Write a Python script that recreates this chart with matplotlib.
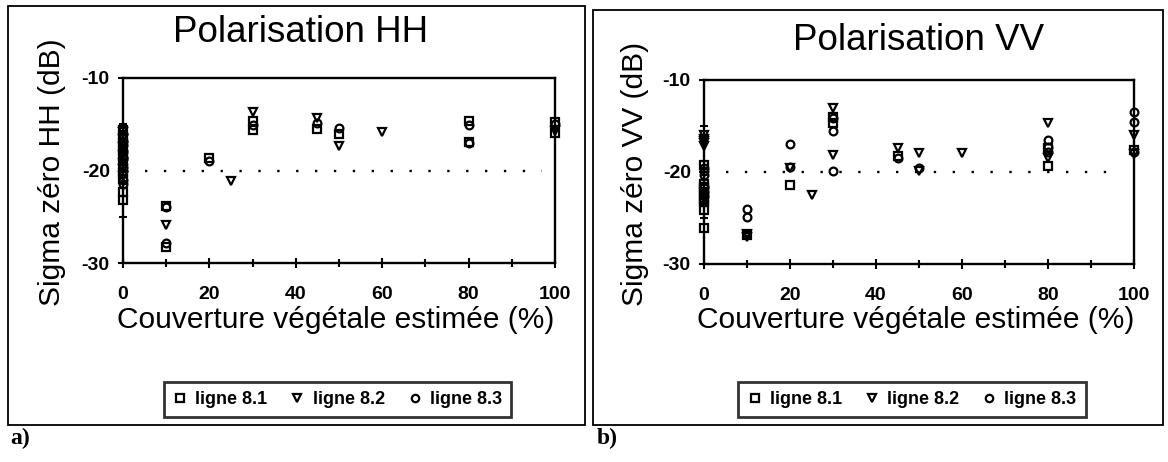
import matplotlib
matplotlib.use("Agg")
import matplotlib.pyplot as plt
from matplotlib.patches import Rectangle
from matplotlib.ticker import MultipleLocator

plt.rcParams['font.family'] = ['Liberation Sans', 'DejaVu Sans']
plt.rcParams['axes.unicode_minus'] = False

# ---- data: vegetation cover (%) vs backscatter sigma0 (dB) ----
series_labels = ['ligne 8.1', 'ligne 8.2', 'ligne 8.3']
threshold_db = -20

# HH polarisation
hh_x_81 = [0, 0, 0, 0, 0, 0, 0, 0, 0, 0, 10, 10, 20, 30, 30, 45, 50, 80, 80, 100, 100]
hh_y_81 = [-15.6, -16.4, -17.0, -17.8, -18.4, -19.4, -20.3, -20.9, -22.3, -23.2,
           -23.8, -28.3, -18.7, -14.7, -15.6, -15.5, -16.0, -14.6, -16.9, -14.8, -15.9]
hh_x_82 = [0, 0, 0, 0, 0, 0, 0, 10, 25, 30, 45, 50, 60, 100]
hh_y_82 = [-15.8, -16.6, -17.5, -18.3, -19.2, -19.8, -20.6, -25.9, -21.1, -13.7,
           -14.3, -17.4, -15.8, -15.7]
hh_x_83 = [0, 0, 0, 0, 0, 0, 0, 0, 0, 0, 10, 10, 20, 30, 45, 50, 80, 80, 100]
hh_y_83 = [-16.1, -16.8, -17.2, -18.0, -18.5, -18.8, -19.6, -20.0, -21.0, -21.5,
           -23.9, -27.8, -19.0, -15.1, -14.9, -15.4, -15.1, -17.0, -15.0]

# VV polarisation
vv_x_81 = [0, 0, 0, 0, 0, 0, 0, 0, 0, 0, 10, 20, 30, 30, 45, 80, 80, 100]
vv_y_81 = [-19.2, -21.3, -21.6, -21.8, -22.3, -22.8, -23.0, -23.3, -24.1, -26.1,
           -26.9, -21.4, -14.0, -14.7, -18.3, -17.4, -19.4, -17.6]
vv_x_82 = [0, 0, 0, 0, 0, 10, 10, 20, 25, 30, 30, 45, 50, 50, 60, 80, 80, 100, 100]
vv_y_82 = [-16.0, -16.4, -16.9, -17.2, -16.6, -26.7, -27.1, -19.6, -22.5, -13.0,
           -18.2, -17.4, -17.9, -19.9, -17.9, -14.7, -18.5, -16.0, -18.0]
vv_x_83 = [0, 0, 0, 0, 0, 0, 10, 10, 20, 20, 30, 30, 30, 45, 50, 80, 80, 80, 100, 100, 100]
vv_y_83 = [-19.6, -19.9, -20.3, -21.6, -22.2, -22.6, -24.0, -24.9, -17.0, -19.5,
           -14.1, -15.5, -19.9, -18.5, -19.6, -16.5, -17.3, -17.8, -13.5, -14.6, -17.8]

W, H = 1168, 462
fig = plt.figure(figsize=(W / 100, H / 100), dpi=100)


def fx(px):
    return px / W


def fy(py):
    return 1 - py / H


markers = ['s', 'v', 'o']
ylab_x = {'a)': 52, 'b)': 635}


def panel(ax_box, frame, series, ylab, title, title_xy, legend_cx, tag_xy, tag):
    l, t, r, b = ax_box
    ax = fig.add_axes([fx(l), fy(b), fx(r - l), (b - t) / H])
    for (xs, ys), m, lab in zip(series, markers, series_labels):
        ax.plot(xs, ys, ls='none', marker=m, ms=5.6, mfc='none', mec='black',
                mew=1.6, clip_on=False, label=lab, zorder=3)
    ax.plot([5, 97], [threshold_db, threshold_db], color='black', lw=1.7,
            ls=(0, (1, 7)), zorder=2)
    ax.set_xlim(0, 100)
    ax.set_ylim(-30, -10)
    ax.xaxis.set_major_locator(MultipleLocator(20))
    ax.xaxis.set_minor_locator(MultipleLocator(10))
    ax.yaxis.set_major_locator(MultipleLocator(10))
    ax.yaxis.set_minor_locator(MultipleLocator(5))
    ax.tick_params(which='both', direction='inout', width=1.5, color='black')
    ax.tick_params(which='major', length=7)
    ax.tick_params(which='minor', length=6)
    ax.tick_params(axis='x', which='major', pad=13, labelsize=14)
    ax.tick_params(axis='y', which='major', pad=6, labelsize=14)
    for lbl in ax.get_xticklabels() + ax.get_yticklabels():
        lbl.set_fontweight('bold')
    for s in ax.spines.values():
        s.set_linewidth(1.7)
    ax.set_xlabel('Couverture végétale estimée (%)', fontsize=21.5, va='center')
    ax.xaxis.set_label_coords(0.493, -(320 - b) / (b - t))
    ax.set_ylabel(ylab, fontsize=21.5, va='center')
    ax.yaxis.set_label_coords((ylab_x[tag] - l) / (r - l), 0.49)

    fl, ft, fr, fb = frame
    fig.patches.append(Rectangle((fx(fl), fy(fb)), fx(fr - fl), (fb - ft) / H,
                                 transform=fig.transFigure, fill=False,
                                 edgecolor='black', lw=1.3))
    fig.text(fx(title_xy[0]), fy(title_xy[1]), title, fontsize=26.5,
             ha='center', va='baseline')
    leg = ax.legend(loc='center', bbox_to_anchor=(fx(legend_cx), fy(399.5)),
                    bbox_transform=fig.transFigure, ncol=3,
                    prop={'weight': 'bold', 'size': 13}, frameon=True,
                    fancybox=False, edgecolor='black', handlelength=0.8,
                    handletextpad=0.45, columnspacing=1.25, borderpad=0.5,
                    borderaxespad=0, markerscale=0.95)
    leg.get_frame().set_linewidth(2)
    fig.text(fx(tag_xy[0]), fy(tag_xy[1]), tag, fontsize=17, fontweight='bold',
             family=['Liberation Serif', 'DejaVu Serif'], ha='left', va='center')
    return ax


panel((123, 78, 555, 263), (8, 6, 585, 425),
      [(hh_x_81, hh_y_81), (hh_x_82, hh_y_82), (hh_x_83, hh_y_83)],
      'Sigma zéro HH (dB)', 'Polarisation HH', (301, 42), 337.5, (10, 438), 'a)')
panel((704, 80, 1134, 264), (593, 10, 1163, 425),
      [(vv_x_81, vv_y_81), (vv_x_82, vv_y_82), (vv_x_83, vv_y_83)],
      'Sigma zéro VV (dB)', 'Polarisation VV', (919, 50), 912, (597, 438), 'b)')

fig.savefig('out.png', dpi=100)
